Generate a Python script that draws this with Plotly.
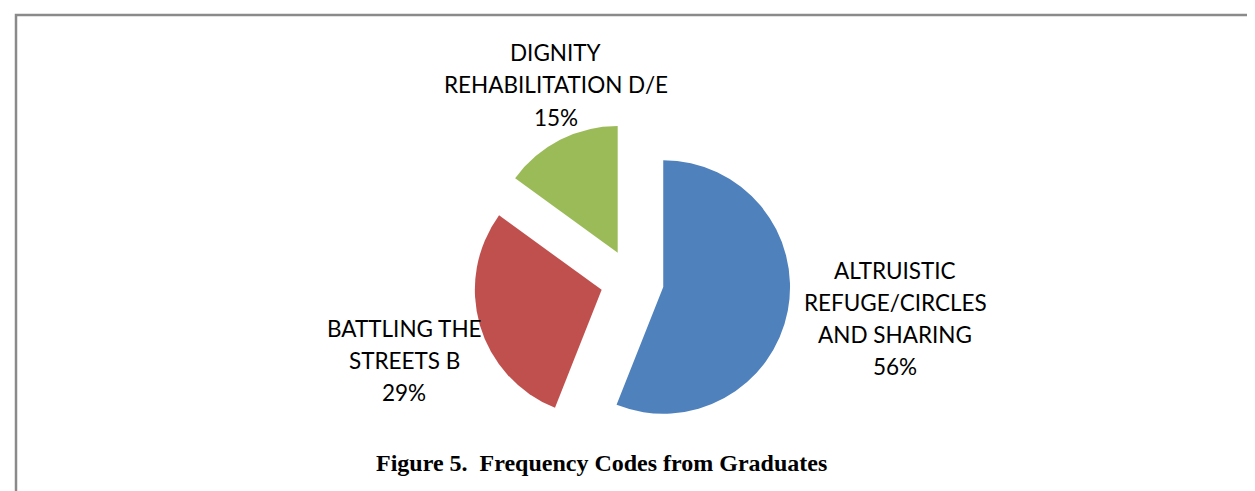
import plotly.graph_objects as go

labels = ["ALTRUISTIC<br>REFUGE/CIRCLES<br>AND SHARING", "BATTLING THE<br>STREETS B", "DIGNITY<br>REHABILITATION D/E"]
values = [56, 29, 15]
colors = ["#4F81BD", "#C0504D", "#9BBB59"]
title_text = "Figure 5.  Frequency Codes from Graduates"

W, H = 1255, 491
# label block layout (pixels): centre x, first-line y, line step
label_pos = [(887, 270), (396, 328.5), (547.5, 52.8)]
line_step = 32.2

fig = go.Figure()
fig.add_trace(go.Pie(
    labels=labels, values=values, sort=False, direction="clockwise", rotation=0,
    marker=dict(colors=colors, line=dict(width=0)),
    pull=[0.25, 0.25, 0.25], textinfo="none", hoverinfo="label+percent",
    showlegend=False,
    domain=dict(x=[465.6 / W, 782.6 / W], y=[59.5 / H, 376.5 / H]),
))

total = sum(values)
for lab, v, (px, py) in zip(labels, values, label_pos):
    lines = lab.split("<br>") + [f"{round(100 * v / total)}%"]
    for i, line in enumerate(lines):
        fig.add_annotation(
            x=px / W, y=1 - (py + i * line_step - 8) / H, xref="paper", yref="paper",
            text=line, showarrow=False,
            font=dict(family="Lato", size=22.5, color="#000000"),
            xanchor="center", yanchor="middle", align="center",
        )

fig.add_annotation(
    x=593 / W, y=1 - 455 / H, xref="paper", yref="paper", text=f"<b>{title_text}</b>",
    showarrow=False, font=dict(family="Liberation Serif", size=24, color="#000000"),
    xanchor="center", yanchor="middle",
)

# chart border (extends beyond right and bottom of the view)
fig.add_shape(type="path", xref="paper", yref="paper",
              path=f"M {8/W} 0 L {8/W} {1-7/H} L 1.01 {1-7/H}",
              line=dict(color="#8a8a8a", width=2.5))

fig.update_layout(
    width=W, height=H, margin=dict(l=0, r=0, t=0, b=0),
    paper_bgcolor="white", plot_bgcolor="white",
)
fig.write_html("out.html")
